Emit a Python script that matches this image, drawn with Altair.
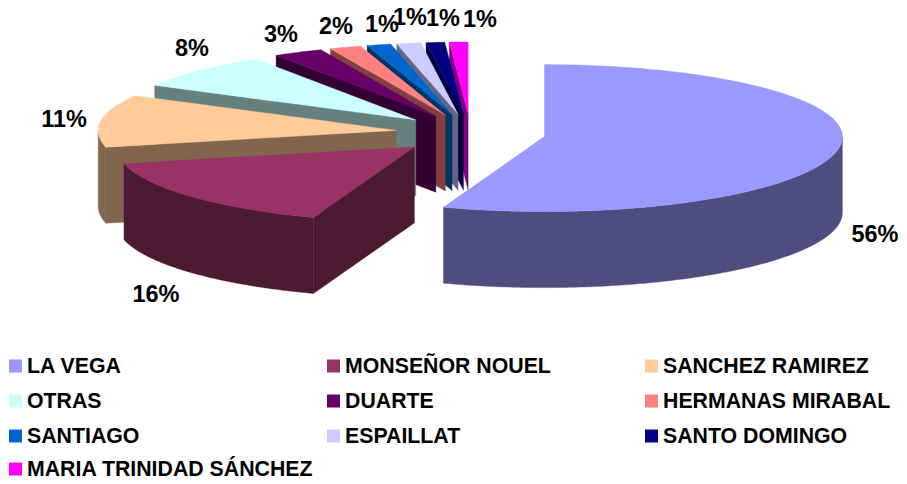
import math
import altair as alt

# Data
NAMES = ["LA VEGA", "MONSEÑOR NOUEL", "SANCHEZ RAMIREZ", "OTRAS", "DUARTE",
         "HERMANAS MIRABAL", "SANTIAGO", "ESPAILLAT", "SANTO DOMINGO",
         "MARIA TRINIDAD SÁNCHEZ"]
SHARES = [55.5, 15.9, 11.6, 8.0, 2.7, 1.7, 1.3, 1.3, 1.0, 1.0]
LABELS = ["56%", "16%", "11%", "8%", "3%", "2%", "1%", "1%", "1%", "1%"]
TOPS = ["#9999FF", "#993366", "#FFCC99", "#CCFFFF", "#660066",
        "#FF8080", "#0066CC", "#CCCCFF", "#000080", "#FF00FF"]
SIDES = ["#4D4D80", "#4D1A33", "#80664D", "#668080", "#330033",
         "#804040", "#003366", "#666680", "#000040", "#800080"]

# Layout (page pixels)
W, H = 891, 468
CX, CY = 470.5, 133
EXPLODE_X, EXPLODE_FRONT, EXPLODE_BACK = 75, 21, 19
RX, RY_BACK, RY_FRONT = 298, 72, 75
DEPTH = 76
LABEL_X = [875, 156, 64, 192, 281, 336, 382, 410, 443, 480]
LABEL_Y = [235, 295, 120, 49, 35, 27, 25, 18, 19, 20]
LEGEND_COLS = [9, 327, 645]
LEGEND_ROWS = [366, 401, 436, 469]


def pt(ax, ay, deg):
    s, c = math.sin(math.radians(deg)), math.cos(math.radians(deg))
    return (ax + RX * s, ay - c * (RY_BACK if c > 0 else RY_FRONT))


def arc(ax, ay, a, b):
    n = max(2, int(abs(b - a) * 2))
    return [pt(ax, ay, a + (b - a) * i / n) for i in range(n + 1)]


def feature(ring, color):
    ring = [list(p) for p in ring] + [list(ring[0])]
    return {"type": "Feature", "properties": {"fill": color},
            "geometry": {"type": "Polygon", "coordinates": [ring]}}


starts, acc = [], 0.0
for v in SHARES:
    starts.append(acc)
    acc += v * 3.6

faces = []
for i in list(range(len(SHARES) - 1, 0, -1)) + [0]:
    a, b = starts[i], starts[i] + SHARES[i] * 3.6
    mid = math.radians((a + b) / 2)
    c = math.cos(mid)
    ax = CX + EXPLODE_X * math.sin(mid)
    ay = CY - c * (EXPLODE_BACK if c > 0 else EXPLODE_FRONT)
    if a > 180:  # the radial wall that faces the viewer
        p = pt(ax, ay, a)
        faces.append(feature([(ax, ay), p, (p[0], p[1] + DEPTH), (ax, ay + DEPTH)], SIDES[i]))
    lo, hi = max(a, 90), min(b, 270)
    if lo < hi:  # the rim
        top = arc(ax, ay, lo, hi)
        faces.append(feature(top + [(x, y + DEPTH) for x, y in reversed(top)], SIDES[i]))
    faces.append(feature([(ax, ay)] + arc(ax, ay, a, b), TOPS[i]))

geo = alt.Chart(alt.InlineData(values={"type": "FeatureCollection", "features": faces},
                               format=alt.DataFormat(property="features", type="json"))
                ).mark_geoshape(strokeWidth=0.4).encode(
    fill=alt.Fill("properties.fill:N", scale=None, legend=None),
    stroke=alt.Stroke("properties.fill:N", scale=None, legend=None),
).project(type="identity", scale=1, translate=[-8, -8])

X = alt.Scale(domain=[8, 8 + W])
Y = alt.Scale(domain=[8 + H, 8])

pct = alt.Chart(alt.Data(values=[{"t": t, "x": x, "y": y} for t, x, y in zip(LABELS, LABEL_X, LABEL_Y)])
                ).mark_text(font="Liberation Sans", fontWeight="bold", fontSize=23.5,
                            color="black", baseline="middle", align="center").encode(
    x=alt.X("x:Q", scale=X, axis=None), y=alt.Y("y:Q", scale=Y, axis=None), text="t:N")

rows = []
for i, (n, col) in enumerate(zip(NAMES, TOPS)):
    rows.append({"name": n, "fill": col,
                 "x": LEGEND_COLS[i % 3], "y": LEGEND_ROWS[i // 3]})

swatch = alt.Chart(alt.Data(values=rows)).mark_square(size=169, opacity=1).encode(
    x=alt.X("sx:Q", scale=X, axis=None), y=alt.Y("y:Q", scale=Y, axis=None),
    fill=alt.Fill("fill:N", scale=None, legend=None)
).transform_calculate(sx="datum.x + 6.5")

names = alt.Chart(alt.Data(values=rows)).mark_text(
    font="Liberation Sans", fontWeight="bold", fontSize=21.3, color="black",
    align="left", baseline="middle", dy=1).encode(
    x=alt.X("tx:Q", scale=X, axis=None), y=alt.Y("y:Q", scale=Y, axis=None), text="name:N"
).transform_calculate(tx="datum.x + 18")

chart = alt.layer(geo, pct, swatch, names).properties(
    width=W, height=H, autosize=alt.AutoSizeParams(type="none"), padding=0,
    background="white"
).configure_view(stroke=None)

chart.save("out.html", embed_options={"renderer": "svg", "actions": False})
